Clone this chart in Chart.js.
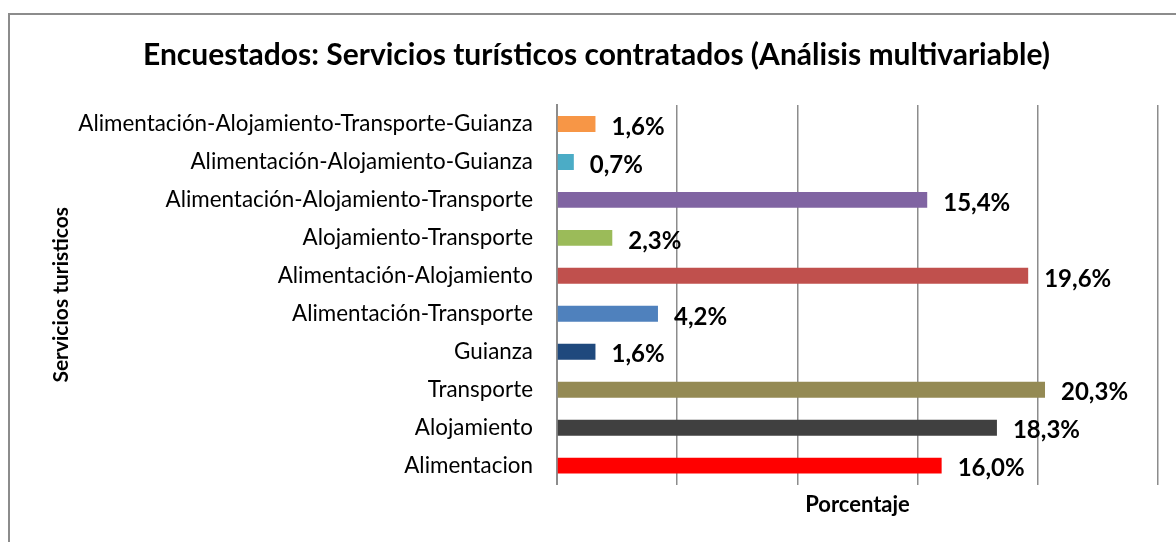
<!DOCTYPE html>
<html>
<head>
<meta charset="utf-8">
<script src="https://cdn.jsdelivr.net/npm/chart.js@4/dist/chart.umd.min.js"></script>
<style>
  html, body { margin: 0; padding: 0; background: #fff; }
  #wrap { width: 1176px; height: 542px; }
</style>
</head>
<body>
<div id="wrap"><canvas id="c" width="1176" height="542"></canvas></div>
<script>
const categories = [
  "Alimentación-Alojamiento-Transporte-Guianza",
  "Alimentación-Alojamiento-Guianza",
  "Alimentación-Alojamiento-Transporte",
  "Alojamiento-Transporte",
  "Alimentación-Alojamiento",
  "Alimentación-Transporte",
  "Guianza",
  "Transporte",
  "Alojamiento",
  "Alimentacion"
];
const percentages = [1.6, 0.7, 15.4, 2.3, 19.6, 4.2, 1.6, 20.3, 18.3, 16.0];
const barColors = ["#F79646", "#4BACC6", "#8064A2", "#9BBB59", "#C0504D", "#4F81BD", "#1F497D", "#948A54", "#404040", "#FF0000"];
const xTicks = [0, 5, 10, 15, 20, 25];
const chartTitle = "Encuestados: Servicios turísticos contratados (Análisis multivariable)";
const yTitle = "Servicios turisticos";
const xTitle = "Porcentaje";

const FONT = "Lato, 'Open Sans', sans-serif";

const borderPlugin = {
  id: 'outerBorder',
  beforeDraw(chart) {
    const ctx = chart.ctx;
    ctx.save();
    ctx.fillStyle = '#fff';
    ctx.fillRect(0, 0, chart.width, chart.height);
    ctx.strokeStyle = '#8c8c8c';
    ctx.lineWidth = 2;
    ctx.strokeRect(9, 14, chart.width + 20, chart.height + 20);
    ctx.restore();
  }
};

const labelPlugin = {
  id: 'valueLabels',
  afterDatasetsDraw(chart) {
    const ctx = chart.ctx;
    const meta = chart.getDatasetMeta(0);
    ctx.save();
    ctx.font = "bold 24px " + FONT;
    ctx.fillStyle = '#000';
    ctx.textAlign = 'left';
    ctx.textBaseline = 'middle';
    meta.data.forEach((bar, i) => {
      const txt = percentages[i].toFixed(1).replace('.', ',') + '%';
      ctx.fillText(txt, bar.x + 16, bar.y + 3);
    });
    ctx.restore();
  }
};

new Chart(document.getElementById('c'), {
  type: 'bar',
  data: {
    labels: categories,
    datasets: [{
      data: percentages,
      backgroundColor: barColors,
      borderWidth: 0,
      categoryPercentage: 1.0,
      barPercentage: 0.42
    }]
  },
  options: {
    indexAxis: 'y',
    responsive: false,
    animation: false,
    devicePixelRatio: 1,
    layout: { padding: { top: 37, left: 35, right: 18, bottom: 24 } },
    plugins: {
      legend: { display: false },
      tooltip: { enabled: false },
      title: {
        display: true,
        text: chartTitle,
        color: '#000',
        font: { family: FONT, size: 30, weight: 'bold' },
        padding: { top: 0, bottom: 32 }
      }
    },
    scales: {
      x: {
        min: xTicks[0],
        max: xTicks[xTicks.length - 1],
        afterBuildTicks(scale) { scale.ticks = xTicks.map(v => ({ value: v })); },
        ticks: { display: false },
        grid: { display: true, color: '#8c8c8c', lineWidth: 1.5, drawTicks: false },
        border: { display: false },
        title: {
          display: true,
          text: xTitle,
          color: '#000',
          font: { family: FONT, size: 22, weight: 'bold' },
          padding: { top: 7, bottom: 0 }
        }
      },
      y: {
        afterFit(scale) { scale.width = 522; },
        ticks: {
          color: '#000',
          font: { family: FONT, size: 22.4 },
          padding: 24
        },
        grid: { display: false, drawTicks: false },
        border: { display: true, color: '#8c8c8c', width: 2 },
        title: {
          display: true,
          text: yTitle,
          color: '#000',
          font: { family: FONT, size: 21, weight: 'bold' },
          padding: { top: 14, bottom: 0 }
        }
      }
    }
  },
  plugins: [borderPlugin, labelPlugin]
});
</script>
</body>
</html>
